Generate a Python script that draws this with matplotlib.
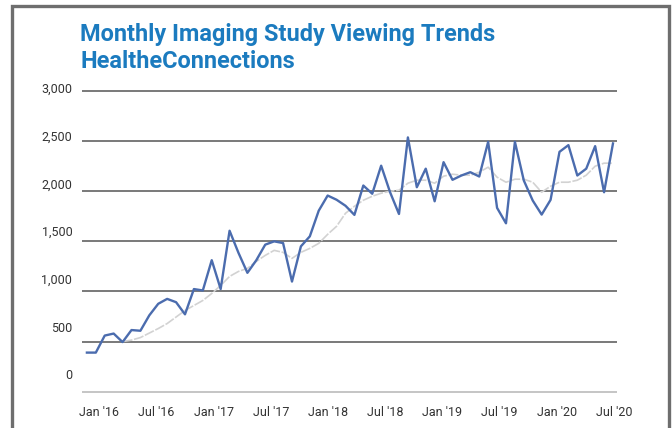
import numpy as np
import matplotlib
matplotlib.use("Agg")
import matplotlib.pyplot as plt
from matplotlib.patches import Rectangle

# Monthly study views (60 months) and the light grey trend line.
views = [390, 390, 560, 580, 495, 615, 608, 762, 877, 926,
         893, 772, 1024, 1010, 1312, 1024, 1606, 1385, 1186, 1312,
         1467, 1500, 1483, 1099, 1450, 1550, 1806, 1957, 1915, 1855,
         1764, 2057, 1975, 2255, 1990, 1773, 2537, 2040, 2225, 1900,
         2290, 2114, 2157, 2190, 2147, 2493, 1834, 1680, 2493, 2107,
         1907, 1767, 1914, 2393, 2460, 2157, 2225, 2450, 1990, 2477]
trend = [np.nan, np.nan, np.nan, np.nan, 500, 515, 540, 585, 630, 680,
         745, 810, 860, 910, 980, 1060, 1150, 1200, 1230, 1300,
         1360, 1410, 1390, 1330, 1390, 1430, 1480, 1570, 1650, 1780,
         1850, 1910, 1950, 1980, 2000, 2010, 2080, 2110, 2110, 2080,
         2150, 2170, 2160, 2160, 2190, 2240, 2140, 2090, 2120, 2120,
         2090, 1990, 2050, 2090, 2090, 2110, 2160, 2250, 2280, 2280]
x_labels = ["Jan '16", "Jul '16", "Jan '17", "Jul '17", "Jan '18",
            "Jul '18", "Jan '19", "Jul '19", "Jan '20", "Jul '20"]
y_ticks = [0, 500, 1000, 1500, 2000, 2500, 3000]

TITLE_BLUE = "#1b7bbf"
LINE_BLUE = "#4b6cae"
TEXT = "#333333"

plt.rcParams["font.family"] = ["Roboto", "DejaVu Sans"]

fig = plt.figure(figsize=(6.72, 4.28), dpi=100)
W, H = 672, 428

# grey frame around the panel (bottom edge runs off the image)
fig.patches.append(Rectangle((12 / W, -0.1), (669 - 12) / W, (H - 6) / H + 0.1,
                             transform=fig.transFigure, fill=False,
                             edgecolor="#6e6e6e", lw=2.4))

fig.text(80 / W, 1 - 35 / H, "Monthly Imaging Study Viewing Trends",
         color=TITLE_BLUE, fontsize=16.9, fontweight="bold", va="center")
fig.text(80 / W, 1 - 62 / H, "HealtheConnections",
         color=TITLE_BLUE, fontsize=16.9, fontweight="bold", va="center")

ax = fig.add_axes([82 / W, (H - 394.7) / H, (617 - 82) / W, (394.7 - 88) / H])
months = np.arange(len(views))
ax.plot(months, trend, color="#d2d2d2", lw=1.2, ls=(0, (6, 1)), zorder=2)
ax.plot(months, views, color=LINE_BLUE, lw=1.7, zorder=3)
ax.set_xlim(-0.55, 59.45)
ax.set_ylim(-30, 3030)

for v in y_ticks:
    ax.axhline(v, color="#555555" if v else "#b5b5b5", lw=1.1, zorder=1)

for s in ax.spines.values():
    s.set_visible(False)
ax.set_yticks([])
ax.set_xticks(np.linspace(1.4, 59.1, len(x_labels)), x_labels)
ax.tick_params(axis="x", length=0, pad=8, labelsize=9, labelcolor=TEXT)

# y labels sit a little above their gridlines in the original
ax2 = ax.twinx()
lo, hi = ax.get_ylim()
ax2.set_ylim((lo - 174) / 0.9563, (hi - 174) / 0.9563)
ax2.yaxis.tick_left()
ax2.set_yticks(y_ticks, [f"{v:,}" for v in y_ticks])
ax2.tick_params(axis="y", length=0, pad=7, labelsize=9, labelcolor=TEXT)
for s in ax2.spines.values():
    s.set_visible(False)

fig.savefig("out.png", dpi=100)
